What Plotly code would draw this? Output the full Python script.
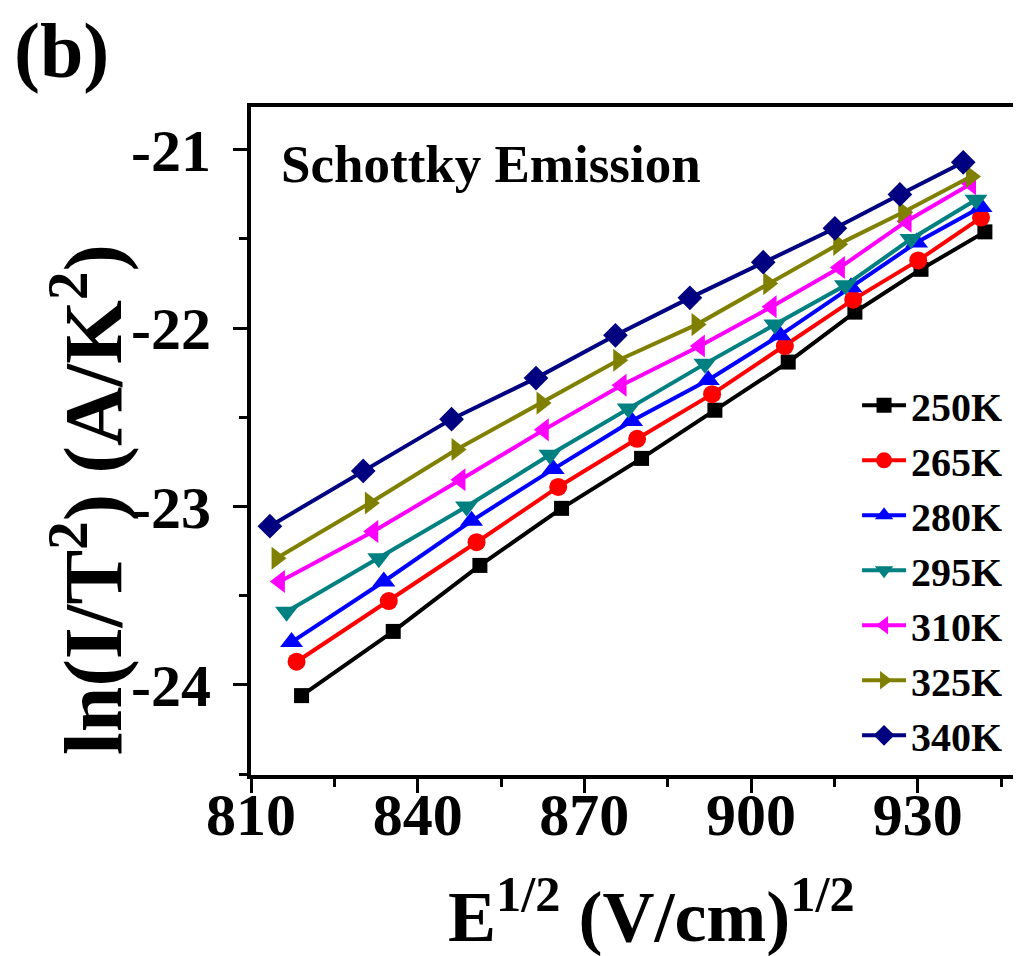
import plotly.graph_objects as go

# Series names
temps = ["250K", "265K", "280K", "295K", "310K", "325K", "340K"]

# E^(1/2) values per series
x_250 = [819.1, 835.6, 851.2, 865.9, 880.3, 893.5, 906.7, 918.7, 930.6, 942.1]
x_265 = [818.2, 834.8, 850.6, 865.3, 879.5, 893.0, 906.1, 918.4, 930.1, 941.4]
x_280 = [817.3, 833.9, 849.7, 864.4, 878.5, 892.3, 905.2, 918.0, 929.8, 941.4]
x_295 = [816.4, 833.0, 848.8, 863.8, 877.9, 891.7, 904.3, 917.0, 928.8, 940.5]
x_310 = [815.2, 832.0, 847.7, 862.7, 876.7, 890.8, 903.7, 916.0, 928.0, 939.6]
x_325 = [814.6, 831.4, 847.0, 862.3, 876.1, 890.2, 903.1, 915.7, 927.4, 939.6]
x_340 = [813.4, 830.2, 846.1, 861.3, 875.6, 889.0, 902.2, 915.1, 926.8, 938.2]

# ln(I/T^2) values per series
y_250 = [-24.06, -23.70, -23.33, -23.01, -22.73, -22.46, -22.19, -21.91, -21.67, -21.46]
y_265 = [-23.87, -23.53, -23.20, -22.89, -22.62, -22.37, -22.10, -21.84, -21.62, -21.38]
y_280 = [-23.76, -23.42, -23.08, -22.79, -22.52, -22.29, -22.04, -21.77, -21.52, -21.32]
y_295 = [-23.59, -23.29, -23.00, -22.71, -22.45, -22.20, -21.98, -21.76, -21.50, -21.28]
y_310 = [-23.42, -23.14, -22.85, -22.57, -22.32, -22.10, -21.88, -21.66, -21.40, -21.19]
y_325 = [-23.29, -22.98, -22.68, -22.42, -22.18, -21.98, -21.75, -21.53, -21.35, -21.15]
y_340 = [-23.11, -22.80, -22.51, -22.28, -22.04, -21.83, -21.63, -21.44, -21.25, -21.07]

x_ticks = [810, 840, 870, 900, 930]
y_ticks = [-24, -23, -22, -21]

xs = [x_250, x_265, x_280, x_295, x_310, x_325, x_340]
ys = [y_250, y_265, y_280, y_295, y_310, y_325, y_340]
colors = ["#000000", "#FF0000", "#0000FF", "#008080", "#FF00FF", "#808000", "#000080"]
symbols = ["square", "circle", "triangle-up", "triangle-down", "triangle-left", "triangle-right", "diamond"]
msizes = [15, 18, 20, 20, 20, 20, 19]

FONT = "Liberation Serif"

fig = go.Figure()
for name, x, y, c, s, ms in zip(temps, xs, ys, colors, symbols, msizes):
    fig.add_trace(go.Scatter(
        x=x, y=y, name=name, mode="lines+markers",
        line=dict(color=c, width=4),
        marker=dict(symbol=s, size=ms, color=c, line=dict(width=0)),
    ))

W, H = 1021, 956
L, R, T, B = 243, 3, 99, 189

fig.update_layout(
    width=W, height=H,
    margin=dict(l=L, r=R, t=T, b=B, pad=0, autoexpand=False),
    paper_bgcolor="white", plot_bgcolor="white",
    font=dict(family=FONT, color="black", size=40, weight="bold"),
    showlegend=True,
    legend=dict(
        x=0.782, y=0.602, xanchor="left", yanchor="top",
        bgcolor="rgba(255,255,255,0)", borderwidth=0,
        font=dict(family=FONT, size=40, color="black", weight="bold"),
        itemwidth=44, tracegroupgap=0,
    ),
    xaxis=dict(
        range=[810, 949.5], tickvals=x_ticks, ticktext=[str(v) for v in x_ticks],
        showgrid=False, zeroline=False, automargin=False,
        showline=True, linecolor="black", linewidth=4, mirror=True,
        ticks="outside", ticklen=14, tickwidth=3, tickcolor="black",
        minor=dict(dtick=15, tick0=810, ticks="outside", ticklen=8, tickwidth=3, tickcolor="black"),
        tickfont=dict(family=FONT, size=60, color="black", weight="bold"),
        ticklabelstandoff=-30,
    ),
    yaxis=dict(
        range=[-24.505, -20.76], tickvals=y_ticks, ticktext=[str(v) for v in y_ticks],
        showgrid=False, zeroline=False, automargin=False,
        showline=True, linecolor="black", linewidth=4, mirror=True,
        ticks="outside", ticklen=14, tickwidth=3, tickcolor="black",
        minor=dict(dtick=0.5, tick0=-24, ticks="outside", ticklen=8, tickwidth=3, tickcolor="black"),
        tickfont=dict(family=FONT, size=60, color="black", weight="bold"),
        ticklabelstandoff=10,
    ),
)

pw = W - L - R
ph = H - T - B

def px(xpix):
    return (xpix - L) / pw

def py(ypix):
    return (H - B - ypix) / ph

fig.add_annotation(
    text="Schottky Emission", xref="paper", yref="paper",
    x=px(271), y=py(156), xanchor="left", yanchor="middle", showarrow=False,
    font=dict(family=FONT, size=53, color="black", weight="bold"),
)
fig.add_annotation(
    text="(b)", xref="paper", yref="paper",
    x=px(4), y=py(42), xanchor="left", yanchor="middle", showarrow=False,
    font=dict(family=FONT, size=78, color="black", weight="bold"),
)
fig.add_annotation(
    text="E<sup>1/2</sup> (V/cm)<sup>1/2</sup>", xref="paper", yref="paper",
    x=px(643), y=py(903), xanchor="center", yanchor="middle", showarrow=False,
    font=dict(family=FONT, size=72, color="black", weight="bold"),
)
fig.add_annotation(
    text="ln(I/T<sup>2</sup>) (A/K<sup>2</sup>)", xref="paper", yref="paper",
    x=px(80), y=py(492), xanchor="center", yanchor="middle", showarrow=False,
    textangle=-90,
    font=dict(family=FONT, size=82, color="black", weight="bold"),
)

fig.write_html("out.html")
